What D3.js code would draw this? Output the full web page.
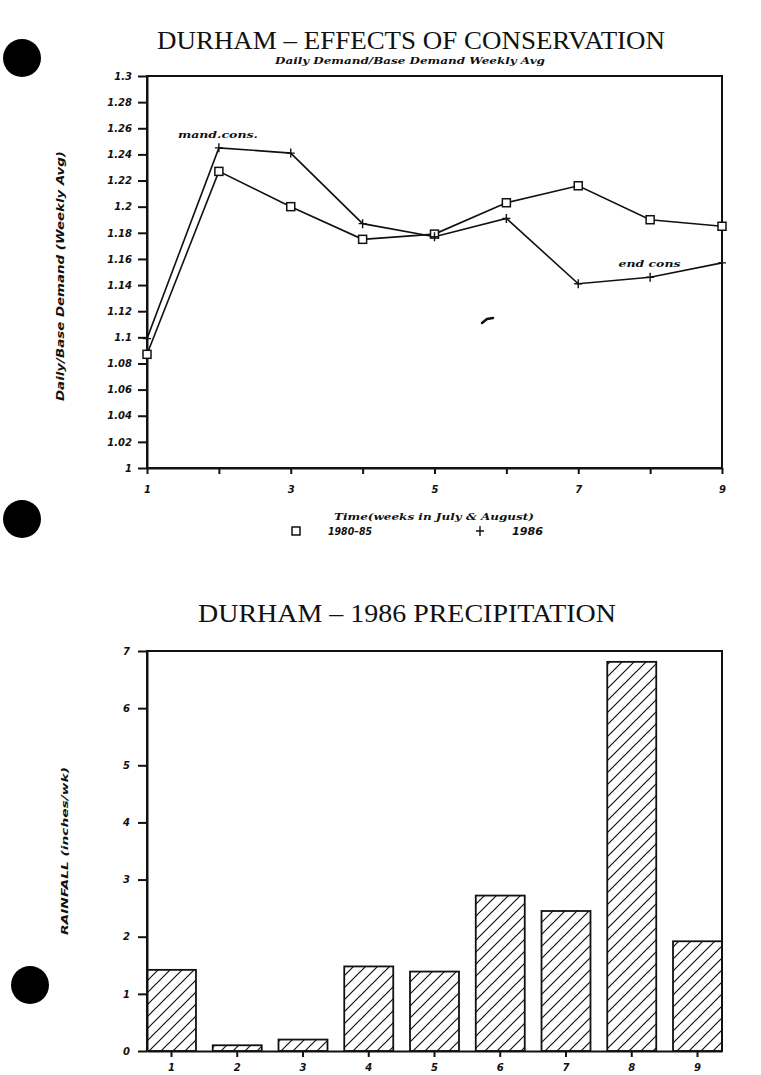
<!DOCTYPE html>
<html>
<head>
<meta charset="utf-8">
<script src="https://cdn.jsdelivr.net/npm/d3@7"></script>
<style>
  body { margin: 0; background: #fff; }
  svg { display: block; }
  .tick text { font-family: "DejaVu Sans", sans-serif; font-weight: bold; font-style: italic; font-size: 10px; fill: #111; }
  .tick line, .domain { stroke: #111; stroke-width: 2; }
</style>
</head>
<body>
<div id="chart"></div>
<script>
// weekly demand ratios (weeks in July & August)
const weeks = [1, 2, 3, 4, 5, 6, 7, 8, 9];
const avg8085 = [1.087, 1.227, 1.200, 1.175, 1.179, 1.203, 1.216, 1.190, 1.185];
const avg1986 = [1.099, 1.245, 1.241, 1.187, 1.177, 1.191, 1.141, 1.146, 1.157];
const demandTicks = [1, 1.02, 1.04, 1.06, 1.08, 1.1, 1.12, 1.14, 1.16, 1.18, 1.2, 1.22, 1.24, 1.26, 1.28, 1.3];
const weekLabels = [1, 3, 5, 7, 9];

// 1986 rainfall, inches per week
const rainWeeks = ['1', '2', '3', '4', '5', '6', '7', '8', '9'];
const rainfall = [1.42, 0.10, 0.20, 1.48, 1.39, 2.72, 2.45, 6.81, 1.92];
const rainTicks = [0, 1, 2, 3, 4, 5, 6, 7];

const W = 761, H = 1075;
const ink = '#111';

const svg = d3.select('#chart').append('svg')
  .attr('width', W).attr('height', H)
  .attr('viewBox', [0, 0, W, H]);

const defs = svg.append('defs');
const hatch = defs.append('pattern')
  .attr('id', 'hatch')
  .attr('patternUnits', 'userSpaceOnUse')
  .attr('width', 12).attr('height', 12);
hatch.append('path')
  .attr('d', 'M0,12 L12,0 M-3,3 L3,-3 M9,15 L15,9')
  .attr('stroke', ink).attr('stroke-width', 1.2);

// binder holes
svg.selectAll('circle.hole')
  .data([[22, 58], [22, 519], [30, 985]])
  .join('circle')
    .attr('class', 'hole')
    .attr('cx', d => d[0]).attr('cy', d => d[1])
    .attr('r', 19).attr('fill', '#000');

const fmt = d => String(+d.toFixed(2));

// ---------- top chart: effects of conservation ----------
const x = d3.scaleLinear().domain([1, 9]).range([147, 722]);
const y = d3.scaleLinear().domain([1, 1.3]).range([468, 76]);

svg.append('text')
  .attr('x', 411).attr('y', 49)
  .attr('text-anchor', 'middle')
  .attr('font-family', '"Liberation Serif", serif')
  .attr('font-size', 26)
  .attr('textLength', 508).attr('lengthAdjust', 'spacingAndGlyphs')
  .attr('fill', ink)
  .text('DURHAM  \u2013  EFFECTS OF CONSERVATION');

svg.append('text')
  .attr('x', 410).attr('y', 64)
  .attr('text-anchor', 'middle')
  .attr('font-family', '"DejaVu Serif", serif')
  .attr('font-weight', 'bold').attr('font-style', 'italic')
  .attr('font-size', 9)
  .attr('textLength', 270).attr('lengthAdjust', 'spacingAndGlyphs')
  .attr('fill', ink)
  .text('Daily Demand/Base Demand   Weekly Avg');

svg.append('g')
  .attr('transform', `translate(${x(1)},0)`)
  .call(d3.axisLeft(y).tickValues(demandTicks).tickFormat(fmt)
    .tickSize(9).tickPadding(6).tickSizeOuter(0));

svg.append('g')
  .attr('transform', `translate(0,${y(1)})`)
  .call(d3.axisBottom(x).tickValues(weeks)
    .tickFormat(d => weekLabels.includes(d) ? d : '')
    .tickSize(6).tickPadding(12).tickSizeOuter(0));

svg.append('rect')
  .attr('x', x(1)).attr('y', y(1.3))
  .attr('width', x(9) - x(1)).attr('height', y(1) - y(1.3))
  .attr('fill', 'none').attr('stroke', ink).attr('stroke-width', 2);

svg.append('text')
  .attr('transform', `translate(64,${(y(1) + y(1.3)) / 2 + 4}) rotate(-90)`)
  .attr('text-anchor', 'middle')
  .attr('font-family', '"DejaVu Sans", sans-serif')
  .attr('font-weight', 'bold').attr('font-style', 'italic')
  .attr('font-size', 10)
  .attr('textLength', 250).attr('lengthAdjust', 'spacingAndGlyphs')
  .attr('fill', ink)
  .text('Daily/Base Demand (Weekly Avg)');

const line = d3.line().x((d, i) => x(weeks[i])).y(d => y(d));

svg.append('path').datum(avg8085)
  .attr('d', line).attr('fill', 'none')
  .attr('stroke', ink).attr('stroke-width', 1.6);
svg.append('path').datum(avg1986)
  .attr('d', line).attr('fill', 'none')
  .attr('stroke', ink).attr('stroke-width', 1.6);

svg.selectAll('rect.sq').data(avg8085)
  .join('rect').attr('class', 'sq')
    .attr('x', (d, i) => x(weeks[i]) - 4).attr('y', d => y(d) - 4)
    .attr('width', 8).attr('height', 8)
    .attr('fill', '#fff').attr('stroke', ink).attr('stroke-width', 1.5);

svg.selectAll('path.plus').data(avg1986)
  .join('path').attr('class', 'plus')
    .attr('d', (d, i) => {
      const cx = x(weeks[i]), cy = y(d);
      return `M${cx - 4},${cy}H${cx + 4}M${cx},${cy - 4.5}V${cy + 4.5}`;
    })
    .attr('stroke', ink).attr('stroke-width', 1.4);

const noteStyle = sel => sel
  .attr('font-family', '"DejaVu Serif", serif')
  .attr('font-weight', 'bold').attr('font-style', 'italic')
  .attr('font-size', 10).attr('fill', ink);

svg.append('text').call(noteStyle)
  .attr('x', x(1.43)).attr('y', y(1.2525))
  .attr('textLength', 80).attr('lengthAdjust', 'spacingAndGlyphs')
  .text('mand.cons.');

svg.append('text').call(noteStyle)
  .attr('x', x(7.56)).attr('y', y(1.154))
  .attr('textLength', 62).attr('lengthAdjust', 'spacingAndGlyphs')
  .text('end cons');

// stray pen mark
svg.append('path')
  .attr('d', 'M482,323 L487,319 L493,318')
  .attr('fill', 'none').attr('stroke', ink).attr('stroke-width', 2.5)
  .attr('stroke-linecap', 'round');

svg.append('text')
  .attr('x', 434).attr('y', 520)
  .attr('text-anchor', 'middle')
  .attr('font-family', '"DejaVu Serif", serif')
  .attr('font-weight', 'bold').attr('font-style', 'italic')
  .attr('font-size', 10)
  .attr('textLength', 200).attr('lengthAdjust', 'spacingAndGlyphs')
  .attr('fill', ink)
  .text('Time(weeks in July & August)');

// legend
const lg = svg.append('g').attr('transform', 'translate(0,531)');
lg.append('rect')
  .attr('x', 292).attr('y', -4).attr('width', 8).attr('height', 8)
  .attr('fill', '#fff').attr('stroke', ink).attr('stroke-width', 1.5);
lg.append('text')
  .attr('x', 328).attr('y', 4)
  .attr('font-family', '"DejaVu Sans", sans-serif')
  .attr('font-weight', 'bold').attr('font-style', 'italic')
  .attr('font-size', 10).attr('fill', ink)
  .attr('textLength', 44).attr('lengthAdjust', 'spacingAndGlyphs')
  .text('1980\u201385');
lg.append('path')
  .attr('d', 'M476,0H484M480,-5V5')
  .attr('stroke', ink).attr('stroke-width', 1.4);
lg.append('text')
  .attr('x', 512).attr('y', 4)
  .attr('font-family', '"DejaVu Sans", sans-serif')
  .attr('font-weight', 'bold').attr('font-style', 'italic')
  .attr('font-size', 10).attr('fill', ink)
  .attr('textLength', 31).attr('lengthAdjust', 'spacingAndGlyphs')
  .text('1986');

// ---------- bottom chart: 1986 precipitation ----------
const xb = d3.scaleBand().domain(rainWeeks).range([147, 722])
  .paddingInner(0.255).paddingOuter(0);
const yb = d3.scaleLinear().domain([0, 7]).range([1051, 651]);

svg.append('text')
  .attr('x', 407).attr('y', 622)
  .attr('text-anchor', 'middle')
  .attr('font-family', '"Liberation Serif", serif')
  .attr('font-size', 25)
  .attr('textLength', 418).attr('lengthAdjust', 'spacingAndGlyphs')
  .attr('fill', ink)
  .text('DURHAM  \u2013  1986 PRECIPITATION');

svg.selectAll('rect.bar').data(rainfall)
  .join('rect').attr('class', 'bar')
    .attr('x', (d, i) => xb(rainWeeks[i]))
    .attr('y', d => yb(d))
    .attr('width', xb.bandwidth())
    .attr('height', d => yb(0) - yb(d))
    .attr('fill', 'url(#hatch)')
    .attr('stroke', ink).attr('stroke-width', 1.8);

svg.append('g')
  .attr('transform', `translate(${xb.range()[0]},0)`)
  .call(d3.axisLeft(yb).tickValues(rainTicks).tickFormat(d3.format('d'))
    .tickSize(9).tickPadding(8).tickSizeOuter(0));

svg.append('g')
  .attr('transform', `translate(0,${yb(0)})`)
  .call(d3.axisBottom(xb).tickSize(6).tickPadding(7).tickSizeOuter(0));

svg.append('path')
  .attr('d', `M${xb.range()[0]},${yb(0)}V${yb(7)}H${xb.range()[1]}V${yb(0)}`)
  .attr('fill', 'none').attr('stroke', ink).attr('stroke-width', 2);

svg.append('text')
  .attr('transform', `translate(68,${(yb(0) + yb(7)) / 2}) rotate(-90)`)
  .attr('text-anchor', 'middle')
  .attr('font-family', '"DejaVu Sans", sans-serif')
  .attr('font-weight', 'bold').attr('font-style', 'italic')
  .attr('font-size', 9)
  .attr('textLength', 168).attr('lengthAdjust', 'spacingAndGlyphs')
  .attr('fill', ink)
  .text('RAINFALL (inches/wk)');
</script>
</body>
</html>
